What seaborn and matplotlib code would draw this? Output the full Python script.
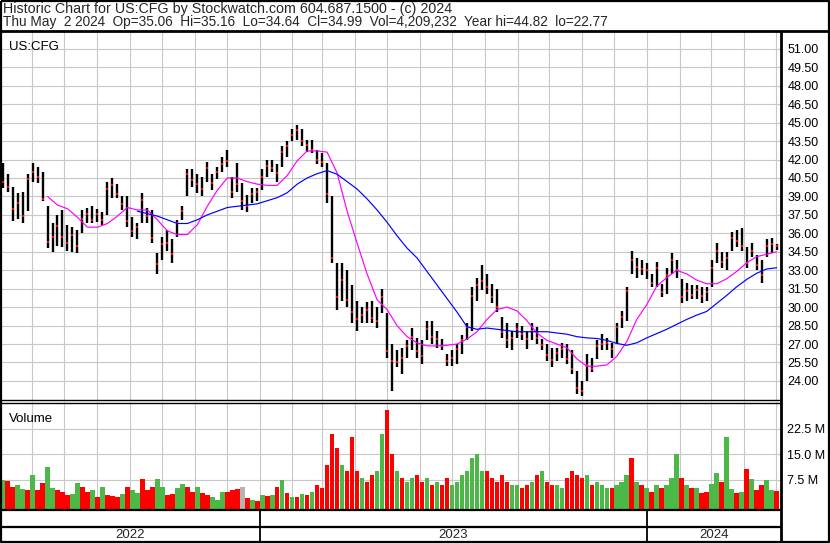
import matplotlib
matplotlib.use("Agg")
import matplotlib.dates as mdates
import matplotlib.pyplot as plt
import numpy as np
import pandas as pd
import seaborn as sns

# price bars, roughly one every three sessions
highs = [41.7, 40.8, 39.8, 39.3, 39.4, 40.8, 41.75, 41.4, 41.0, 38.2,
         36.8, 37.5, 37.9, 36.7, 36.5, 36.3, 37.9, 38.1, 38.2, 38.0,
         37.7, 40.2, 40.5, 40.0, 39.0, 39.0, 37.3, 36.8, 39.3, 38.1,
         37.9, 34.4, 35.7, 36.3, 35.5, 37.1, 38.2, 41.2, 41.2, 40.8,
         40.6, 41.8, 40.8, 41.4, 42.2, 42.8, 40.6, 41.7, 40.1, 39.1,
         39.7, 39.7, 41.2, 42.0, 42.0, 41.6, 43.1, 43.5, 44.5, 44.82,
         44.5, 43.6, 43.6, 42.8, 42.5, 41.7, 39.0, 33.6, 33.6, 33.0,
         31.8, 30.5, 30.0, 30.4, 30.5, 30.0, 31.5, 29.5, 27.0, 26.5,
         26.7, 27.3, 28.3, 27.5, 27.3, 28.9, 28.9, 28.1, 27.4, 26.2,
         26.5, 27.0, 27.7, 28.7, 31.6, 32.4, 33.4, 32.7, 31.9, 31.5,
         29.2, 28.7, 28.1, 28.7, 28.5, 28.1, 28.7, 28.4, 27.4, 27.0,
         26.7, 26.7, 27.1, 27.0, 26.5, 24.8, 24.0, 26.2, 25.9, 27.3,
         27.8, 27.5, 27.1, 28.7, 29.7, 31.6, 34.6, 34.0, 33.8, 33.6,
         32.7, 33.7, 31.9, 33.2, 34.4, 33.8, 32.3, 32.0, 31.8, 31.8,
         31.6, 31.6, 33.8, 35.2, 34.5, 34.5, 36.1, 36.3, 36.4, 34.9,
         35.2, 34.2, 33.8, 35.5, 35.6, 35.16]
lows = [39.7, 39.4, 37.0, 37.2, 36.8, 37.8, 40.2, 40.1, 38.6, 34.8,
        34.5, 35.0, 34.9, 34.6, 34.5, 34.4, 36.0, 36.8, 36.8, 36.9,
        36.7, 37.5, 38.9, 38.9, 37.9, 36.5, 35.7, 35.5, 36.8, 36.8,
        35.2, 32.7, 33.8, 34.6, 33.6, 35.7, 37.1, 39.0, 39.8, 39.3,
        39.0, 40.2, 39.5, 40.4, 41.0, 41.4, 38.9, 39.4, 37.9, 37.7,
        38.5, 38.6, 39.5, 40.6, 41.0, 40.2, 41.4, 42.2, 43.5, 43.6,
        43.1, 42.6, 42.5, 41.6, 41.4, 38.5, 33.6, 29.8, 30.5, 30.0,
        28.7, 28.1, 28.7, 28.7, 28.7, 28.3, 29.5, 25.9, 23.2, 25.1,
        24.6, 25.9, 26.5, 25.9, 25.4, 27.3, 27.0, 26.7, 26.5, 25.2,
        25.2, 25.4, 26.2, 27.3, 28.1, 30.5, 31.4, 31.1, 30.3, 29.6,
        27.5, 26.7, 26.5, 27.5, 27.3, 26.6, 27.3, 27.0, 26.5, 25.6,
        25.1, 25.6, 25.9, 25.4, 24.6, 22.9, 22.77, 24.0, 24.7, 25.8,
        26.5, 26.5, 25.9, 27.0, 28.3, 28.9, 32.7, 32.4, 32.6, 32.3,
        31.6, 31.6, 30.8, 31.1, 32.7, 32.4, 30.3, 30.5, 30.7, 30.7,
        30.3, 30.5, 31.6, 33.6, 33.2, 33.0, 34.6, 34.9, 34.6, 33.2,
        34.1, 33.0, 32.0, 34.1, 34.4, 34.64]
closes = [40.2, 39.8, 38.0, 38.5, 37.4, 40.4, 41.0, 40.6, 38.8, 35.3,
          35.7, 36.6, 35.7, 35.2, 35.9, 35.0, 37.2, 37.6, 37.1, 37.6,
          37.1, 39.6, 39.9, 39.2, 38.4, 37.0, 36.2, 36.5, 38.7, 37.4,
          35.6, 33.5, 35.1, 35.2, 34.3, 36.8, 37.8, 40.8, 40.3, 40.0,
          39.6, 41.3, 40.1, 41.0, 41.6, 41.9, 39.4, 40.0, 38.6, 38.2,
          39.2, 39.4, 40.6, 41.5, 41.3, 40.9, 42.6, 43.1, 44.0, 44.4,
          43.5, 43.2, 42.8, 42.0, 41.8, 39.2, 34.0, 30.8, 32.2, 30.6,
          29.6, 29.0, 29.4, 29.8, 29.1, 28.9, 30.8, 26.4, 25.6, 25.5,
          25.9, 26.8, 27.6, 26.4, 26.0, 28.2, 27.6, 27.4, 26.8, 25.6,
          25.9, 26.6, 27.3, 28.4, 30.9, 31.8, 32.1, 31.6, 30.8, 30.0,
          28.0, 27.3, 27.5, 28.2, 27.8, 27.4, 28.1, 27.5, 26.9, 26.1,
          25.7, 26.3, 26.6, 25.8, 25.0, 23.4, 23.2, 25.3, 25.0, 26.8,
          27.0, 27.1, 26.6, 28.4, 29.2, 31.3, 33.8, 33.3, 33.1, 33.0,
          32.0, 33.2, 31.2, 32.6, 33.8, 33.0, 30.8, 31.3, 31.0, 31.4,
          30.9, 31.2, 33.2, 34.6, 33.7, 34.0, 35.6, 35.4, 35.0, 33.6,
          34.6, 33.4, 32.6, 35.0, 35.1, 34.99]

# volume in millions, g = up day, r = down day, n = unchanged
volumes = [7.5, 7.3, 5.5, 6.0, 4.9, 4.6, 9.0, 4.6, 6.5, 11.2,
           5.0, 4.6, 4.1, 3.1, 3.4, 6.5, 5.5, 4.1, 4.6, 2.6,
           5.5, 3.1, 2.8, 2.6, 3.4, 5.5, 4.6, 3.6, 7.7, 4.6,
           5.3, 7.7, 5.5, 3.1, 3.4, 5.0, 6.3, 5.5, 4.1, 5.3,
           3.6, 3.1, 2.6, 1.6, 4.1, 4.1, 4.6, 4.8, 5.5, 2.2,
           1.6, 1.4, 3.1, 2.8, 3.1, 5.5, 7.5, 3.6, 2.6, 2.6,
           3.5, 3.0, 4.0, 6.0, 5.0, 12.0, 21.0, 17.0, 12.0, 10.0,
           20.0, 10.0, 8.0, 7.0, 9.0, 10.0, 21.0, 28.0, 15.0, 10.0,
           8.0, 7.0, 8.0, 9.0, 7.0, 8.0, 6.0, 7.0, 6.0, 8.0,
           6.0, 7.0, 9.0, 10.0, 14.0, 15.0, 10.0, 10.0, 8.0, 7.0,
           9.0, 7.0, 6.0, 6.0, 5.0, 6.0, 7.0, 9.0, 10.0, 7.0,
           6.0, 6.0, 5.0, 8.0, 10.0, 9.0, 8.0, 9.0, 6.0, 7.0,
           6.0, 5.0, 5.0, 6.0, 7.0, 9.0, 14.0, 7.0, 6.0, 5.0,
           4.0, 6.0, 5.0, 6.0, 8.0, 15.0, 8.0, 6.0, 5.0, 5.0,
           3.7, 4.0, 6.3, 9.6, 6.8, 20.2, 4.8, 3.8, 4.0, 10.7,
           7.7, 4.6, 6.0, 7.5, 4.6, 4.21]
vol_moves = ("grrggrgrrg" "grrrggrrgr" "grrrgrggrr" "rggrrggrrg"
             "rrgggrrrnr" "grgrgrgrgr" "grgrrrrrgr" "rrgrrggrrg"
             "rggrrgrgrr" "gggggggrrr" "rrggrrgrgr" "rggrrrrgrg"
             "ggrgggrgrg" "rgrgggrgrg" "rrggrggrgr" "grrggr")

# moving averages, read every second bar
ma_short = [39.0, 38.3, 38.0, 37.3, 36.5, 36.5, 36.8, 37.4, 38.1, 37.9,
            37.9, 37.1, 36.2, 35.9, 35.9, 36.7, 38.2, 39.5, 40.5, 40.5,
            40.2, 40.0, 39.9, 39.9, 40.7, 41.9, 42.7, 42.7, 42.6, 40.9,
            37.8, 35.2, 32.7, 30.6, 29.8, 28.5, 27.6, 27.1, 26.85, 26.85,
            26.9, 27.0, 27.4, 28.0, 29.0, 29.8, 30.0, 29.7, 28.9, 27.9,
            27.3, 27.0, 26.7, 25.8, 25.2, 25.2, 25.3, 26.0, 27.2, 29.0,
            30.2, 31.7, 32.4, 33.0, 32.7, 32.2, 31.9, 31.9, 32.3, 32.9,
            33.6, 34.1, 34.3, 34.5]
ma_long = [37.8, 37.6, 37.4, 37.1, 36.8, 36.8, 37.1, 37.5, 37.8, 38.1,
           38.2, 38.3, 38.4, 38.65, 38.9, 39.3, 40.0, 40.5, 40.85, 41.1,
           40.8, 40.2, 39.6, 38.8, 37.9, 36.9, 35.8, 34.8, 34.0, 32.9,
           31.8, 30.7, 29.6, 28.4, 28.2, 28.3, 28.2, 28.1, 28.0, 28.0,
           28.0, 28.0, 27.9, 27.8, 27.6, 27.5, 27.45, 27.3, 27.05, 26.9,
           27.1, 27.5, 27.85, 28.2, 28.6, 29.0, 29.35, 29.65, 30.3, 30.95,
           31.65, 32.25, 32.75, 33.1, 33.2]

price_ticks = [24.0, 25.5, 27.0, 28.5, 30.0, 31.5, 33.0, 34.5, 36.0, 37.5,
               39.0, 40.5, 42.0, 43.5, 45.0, 46.5, 48.0, 49.5, 51.0]
vol_ticks = [7.5, 15.0, 22.5]
year_labels = ["2022", "2023", "2024"]
year_starts = ["2023-01-01", "2024-01-01"]

title_1 = "Historic Chart for US:CFG by Stockwatch.com 604.687.1500 - (c) 2024"
title_2 = ("Thu May  2 2024  Op=35.06  Hi=35.16  Lo=34.64  Cl=34.99  "
           "Vol=4,209,232  Year hi=44.82  lo=22.77")

sns.set_theme(style="white")
plt.rcParams["font.family"] = ["Liberation Sans", "DejaVu Sans"]

W, H = 830, 543
GRID = "#c8c8c8"
GREEN = "#4cb848"
RED = "#ff0000"


def px_rect(x0, y0, x1, y1):
    return [x0 / W, 1 - y1 / H, (x1 - x0) / W, (y1 - y0) / H]


dates = pd.date_range("2022-05-04", "2024-05-02", periods=len(highs))
bars = pd.DataFrame({"date": dates, "high": highs, "low": lows,
                     "close": closes, "volume": volumes,
                     "move": list(vol_moves)})
short_df = pd.DataFrame({"date": dates[9::2], "ma": ma_short})
long_df = pd.DataFrame({"date": dates[27::2], "ma": ma_long})

x_lo = pd.Timestamp("2022-05-01 14:00")
x_hi = pd.Timestamp("2024-05-06 04:00")

fig = plt.figure(figsize=(W / 100, H / 100), dpi=100)
fig.patch.set_facecolor("white")

ax_p = fig.add_axes(px_rect(0, 31, 781, 400))
ax_v = fig.add_axes(px_rect(0, 402, 781, 509), sharex=ax_p)
ax_y = fig.add_axes(px_rect(0, 509, 781, 542), sharex=ax_p)

for ax in (ax_p, ax_v, ax_y):
    ax.set_facecolor("white")
    for s in ax.spines.values():
        s.set_visible(False)
    ax.xaxis.set_major_locator(mdates.MonthLocator())
    ax.tick_params(axis="x", length=0, labelbottom=False)

# price panel
ax_p.vlines(bars["date"], bars["low"], bars["high"], color="black", lw=1.7, zorder=3)
sns.scatterplot(data=bars, x="date", y="close", marker="s", s=4, color=RED,
                linewidth=0, ax=ax_p, zorder=4, legend=False)
sns.lineplot(data=short_df, x="date", y="ma", color="#ff00ff", lw=0.85, ax=ax_p, zorder=5)
sns.lineplot(data=long_df, x="date", y="ma", color="#0000ff", lw=0.85, ax=ax_p, zorder=5)
ax_p.set_xlim(x_lo, x_hi)
ax_p.set_ylim(22.45, 52.45)
ax_p.set_yticks(price_ticks)
ax_p.set_yticklabels([f"{t:.2f}" for t in price_ticks])
ax_p.yaxis.tick_right()
ax_p.tick_params(axis="y", length=0, pad=4.5, labelsize=9, labelcolor="black")
ax_p.grid(True, color=GRID, lw=0.8)
ax_p.set_axisbelow(True)
ax_p.set_xlabel("")
ax_p.set_ylabel("")
ax_p.text(0.011, 0.973, "US:CFG", transform=ax_p.transAxes, fontsize=9.5,
          va="top", ha="left", color="black")

# volume panel
vol_floor = -1.03
colors = bars["move"].map({"g": GREEN, "r": RED, "n": "#b4b4b4"})
ax_v.bar(bars["date"], bars["volume"] - vol_floor, bottom=vol_floor, width=4.3,
         color=colors, linewidth=0, zorder=3)
ax_v.set_ylim(vol_floor, 30.44)
ax_v.set_yticks(vol_ticks)
ax_v.set_yticklabels([f"{t:.1f} M" for t in vol_ticks])
ax_v.yaxis.tick_right()
ax_v.tick_params(axis="y", length=0, pad=4.5, labelsize=9, labelcolor="black")
ax_v.grid(True, color=GRID, lw=0.8)
ax_v.set_axisbelow(True)
ax_v.text(0.012, 0.9, "Volume", transform=ax_v.transAxes, fontsize=9.5,
          va="top", ha="left", color="black")

# year strip
ax_y.set_ylim(0, 1)
ax_y.set_yticks([])
bounds = [x_lo] + [pd.Timestamp(d) for d in year_starts] + [x_hi]
for d in year_starts:
    ax_y.axvline(pd.Timestamp(d), color="black", lw=1.3)
ax_y.axhline(0.49, color="black", lw=0.9)
ax_y.axhline(0.44, color="black", lw=0.9)
for label, a, b in zip(year_labels, bounds[:-1], bounds[1:]):
    ax_y.text(a + (b - a) / 2, 0.22, label, ha="center", va="center", fontsize=9.5)
ax_y.set_xlim(x_lo, x_hi)

# frame and header
ov = fig.add_axes([0, 0, 1, 1], zorder=10)
ov.set_xlim(0, W)
ov.set_ylim(H, 0)
ov.axis("off")
ov.patch.set_alpha(0)
frame = dict(color="black", solid_capstyle="butt")
ov.plot([1, 1, 829, 829, 1], [1, 542, 542, 1, 1], lw=1.6, **frame)
ov.plot([0, W], [31, 31], lw=2.0, **frame)
ov.plot([781, 781], [31, 543], lw=2.0, **frame)
ov.plot([0, 781], [400, 400], lw=1.0, **frame)
ov.plot([0, 781], [402.5, 402.5], lw=1.0, **frame)
ov.plot([0, 781], [509.5, 509.5], lw=1.6, **frame)
ov.text(3, 8.5, title_1, fontsize=10.3, va="center", ha="left")
ov.text(3, 22, title_2, fontsize=9.8, va="center", ha="left")

fig.savefig("out.png", dpi=100, facecolor="white")
